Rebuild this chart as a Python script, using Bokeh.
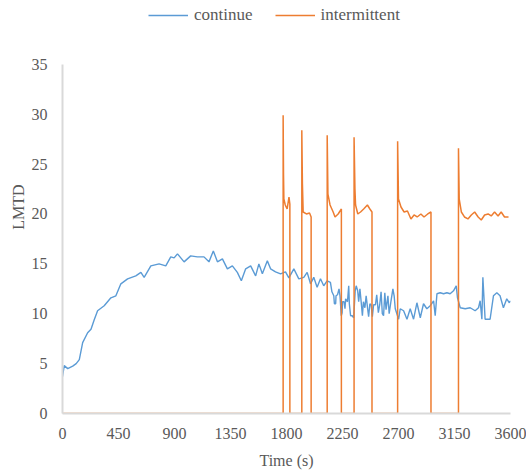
from bokeh.plotting import figure
from bokeh.models import FixedTicker, Legend, LegendItem
from bokeh.embed import file_html
from bokeh.resources import INLINE

# continue series (time s, LMTD) - rows aligned between the two lists
cont_t = [0, 14, 42, 82, 110, 135, 162, 202, 229, 255, 282, 335, 389, 429, 469, 523, 589, 630, 656, 710,
          776, 830, 870, 897, 924, 977, 1030, 1084, 1137, 1177, 1212, 1245, 1285, 1325, 1365, 1405, 1437,
          1472, 1512, 1552, 1578, 1606, 1646, 1672, 1712, 1752, 1792, 1819, 1859, 1899, 1939, 1966, 1993,
          2019, 2046, 2073, 2099, 2126, 2153, 2165, 2180, 2185, 2195, 2198, 2210, 2222, 2230, 2240, 2247,
          2250, 2262, 2270, 2275, 2290, 2300, 2305, 2315, 2328, 2340, 2352, 2360, 2372, 2380, 2390, 2400,
          2410, 2418, 2430, 2440, 2452, 2460, 2470, 2480, 2490, 2500, 2515, 2525, 2538, 2550, 2560, 2570,
          2580, 2590, 2600, 2615, 2625, 2640, 2655, 2665, 2674, 2701, 2714, 2741, 2768, 2794,
          2821, 2848, 2875, 2901, 2928, 2955, 2982, 2995, 3009, 3035, 3062, 3089, 3115, 3142, 3164, 3174,
          3196, 3236, 3276, 3316, 3343, 3356, 3370, 3378, 3396, 3436, 3463, 3490, 3516, 3543, 3570, 3591, 3600]
cont_v = [3.7, 4.8, 4.5, 4.75, 5.0, 5.4, 7.1, 8.1, 8.45, 9.4, 10.3, 10.8, 11.6, 11.8, 13.0, 13.5, 13.8, 14.15, 13.65, 14.8,
          15.0, 14.8, 15.7, 15.6, 16.0, 15.2, 15.8, 15.7, 15.7, 15.2, 16.3, 15.2, 15.5, 14.5, 14.8, 14.15, 13.3,
          14.5, 14.8, 13.8, 15.0, 14.0, 15.3, 14.5, 14.2, 14.0, 14.2, 13.6, 14.5, 13.5, 13.65, 14.15, 13.0,
          13.65, 12.65, 13.5, 12.8, 13.3, 13.15, 12.2, 11.8, 11.0, 11.0, 11.8, 11.9, 12.5, 11.8, 9.8, 10.1,
          11.2, 11.2, 10.5, 11.5, 11.2, 12.8, 11.0, 9.8, 9.8, 9.6, 12.3, 12.8, 12.3, 11.2, 12.5, 11.2,
          9.8, 11.2, 10.6, 11.8, 10.5, 9.7, 11.0, 10.9, 9.7, 10.9, 10.9, 11.9, 10.1, 11.0, 12.2, 10.0,
          9.8, 12.1, 10.4, 11.8, 10.0, 11.3, 12.5, 11.8, 10.5, 9.45, 10.5, 10.3, 9.45, 10.5,
          9.45, 11.1, 9.6, 11.0, 10.5, 10.8, 11.3, 9.8, 12.0, 12.1, 12.0, 12.1, 12.0, 12.3, 12.8, 11.6,
          10.6, 10.5, 10.6, 10.3, 10.6, 11.3, 9.45, 13.65, 9.45, 9.45, 11.8, 12.1, 11.8, 10.6, 11.5, 11.1, 11.3]

# intermittent series (time s, LMTD)
inter_t = [0, 1773, 1773, 1776, 1779, 1790, 1805, 1820, 1827, 1827,
           1923, 1923, 1928, 1934, 1960, 1985, 1998, 1998,
           2127, 2127, 2133, 2150, 2175, 2190, 2215, 2241, 2241,
           2343, 2343, 2350, 2355, 2373, 2395, 2420, 2450, 2470, 2487, 2487,
           2693, 2693, 2700, 2720, 2745, 2772, 2800, 2825, 2850, 2880, 2905, 2935, 2961, 2961,
           3182, 3182, 3188, 3205, 3230, 3258, 3285, 3312, 3340, 3365, 3392, 3420, 3445, 3472, 3500, 3525, 3552, 3584]
inter_v = [0, 0, 29.9, 24.0, 21.5, 20.9, 20.5, 21.7, 21.0, 0,
           0, 28.4, 23.0, 20.2, 20.0, 20.1, 19.7, 0,
           0, 27.9, 22.0, 20.9, 20.2, 19.7, 20.0, 20.5, 0,
           0, 27.7, 22.5, 20.9, 20.0, 20.2, 20.5, 20.9, 20.5, 20.2, 0,
           0, 27.3, 21.5, 20.7, 20.2, 20.3, 19.5, 19.9, 19.7, 20.0, 19.7, 20.0, 20.2, 0,
           0, 26.6, 21.5, 20.2, 19.7, 19.5, 19.9, 20.2, 19.7, 19.4, 19.9, 20.0, 19.8, 20.2, 19.8, 20.2, 19.7, 19.7]

x_ticks = [0, 450, 900, 1350, 1800, 2250, 2700, 3150, 3600]
y_ticks = [0, 5, 10, 15, 20, 25, 30, 35]

FONT = "Liberation Serif"
TXT = "#595959"

# frame spans full top so the legend can sit inside it; y axis drawn only 0..35
p = figure(width=526, height=472, x_range=(0, 3600), y_range=(0, 41.4),
           output_backend="svg", toolbar_location=None,
           min_border_left=62, min_border_right=16, min_border_top=0, min_border_bottom=59)
p.outline_line_color = None
p.xgrid.grid_line_color = None
p.ygrid.grid_line_color = None

r1 = p.line(cont_t, cont_v, line_color="#5B9BD5", line_width=1.4)
r2 = p.line(inter_t, inter_v, line_color="#ED7D31", line_width=1.5)

for ax in (p.xaxis[0], p.yaxis[0]):
    ax.axis_line_color = "#D9D9D9"
    ax.axis_line_width = 2
    ax.major_tick_line_color = None
    ax.minor_tick_line_color = None
    ax.major_tick_out = 0
    ax.major_tick_in = 0
    ax.major_label_text_font = FONT
    ax.major_label_text_font_size = "16px"
    ax.major_label_text_color = TXT
    ax.axis_label_text_font = FONT
    ax.axis_label_text_font_size = "16px"
    ax.axis_label_text_color = TXT
    ax.axis_label_text_font_style = "normal"

p.xaxis[0].ticker = FixedTicker(ticks=x_ticks)
p.yaxis[0].ticker = FixedTicker(ticks=y_ticks)
p.yaxis[0].bounds = (0, 35)
p.xaxis[0].axis_label = "Time (s)"
p.yaxis[0].axis_label = "LMTD"
p.xaxis[0].major_label_standoff = 14
p.yaxis[0].major_label_standoff = 15
p.xaxis[0].axis_label_standoff = 10
p.yaxis[0].axis_label_standoff = 2

legend = Legend(items=[LegendItem(label="continue", renderers=[r1]),
                       LegendItem(label="intermittent", renderers=[r2])],
                orientation="horizontal", location=(86, 388),
                label_text_font=FONT, label_text_font_size="17px", label_text_color=TXT,
                glyph_width=40, glyph_height=16, spacing=22, label_standoff=6,
                border_line_color=None, background_fill_alpha=0, margin=0, padding=0)
p.add_layout(legend, "center")

open("out.html", "w").write(file_html(p, INLINE))
